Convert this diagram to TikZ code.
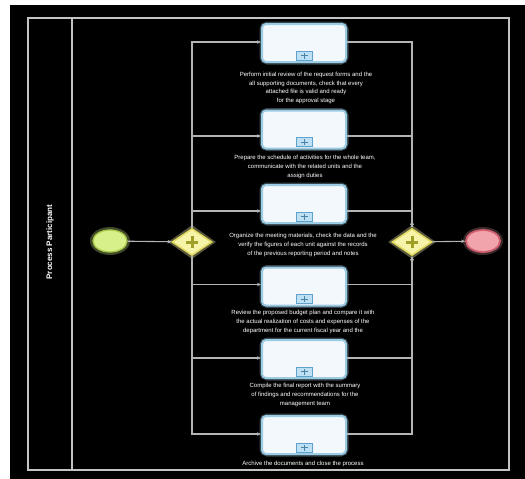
\documentclass[tikz,border=0pt]{standalone}
\usepackage{fontspec}
\setmainfont{Liberation Sans}
\usetikzlibrary{arrows.meta,shapes.geometric,calc}
\definecolor{flowgray}{HTML}{B4B4B4}
\definecolor{poolgray}{HTML}{C4C4C4}
\definecolor{taskfill}{HTML}{F2F8FC}
\definecolor{taskedge}{HTML}{9CCBE4}
\definecolor{markfill}{HTML}{BEE0F4}
\definecolor{markedge}{HTML}{5EA2CC}
\definecolor{startfill}{HTML}{D8F08A}
\definecolor{startedge}{HTML}{A8C848}
\definecolor{endfill}{HTML}{F2A4AC}
\definecolor{endedge}{HTML}{D06070}
\definecolor{gwfill}{HTML}{F6F4A8}
\definecolor{gwedge}{HTML}{E0D860}
\definecolor{gwplus}{HTML}{A0A028}
\tikzset{
  lbl/.style={text=white, font=\fontsize{6}{8.6}\selectfont, align=center, inner sep=0pt},
  taskbox/.style={draw=taskedge, line width=2pt, fill=taskfill, rounded corners=4pt,
    minimum width=84pt, minimum height=38pt, inner sep=0pt},
  taskglow/.style={draw=taskedge, line width=5pt, opacity=0.35, rounded corners=5pt,
    minimum width=84pt, minimum height=38pt, inner sep=0pt},
  flow/.style={draw=flowgray, line width=1.1pt, -{Stealth[length=4pt,width=3.5pt]}},
  gw/.style={diamond, draw=gwedge, line width=1.5pt, fill=gwfill, minimum width=40pt,
    minimum height=27pt, inner sep=0pt},
  gwglow/.style={diamond, fill=gwfill, opacity=0.35, minimum width=48pt,
    minimum height=34pt, inner sep=0pt},
  ev/.style={ellipse, line width=1.3pt, minimum width=34pt, minimum height=22pt, inner sep=0pt},
  plusline/.style={gwplus, line width=3pt},
}
\newcommand{\submark}[1]{%
  \draw[markedge, fill=markfill, line width=0.8pt]
    ($(#1.south)+(-8,-3)$) rectangle ($(#1.south)+(8,-12)$);
  \draw[markedge!80!black, line width=0.9pt]
    ($(#1.south)+(-3.5,-7.5)$) -- ($(#1.south)+(3.5,-7.5)$)
    ($(#1.south)+(0,-4.5)$) -- ($(#1.south)+(0,-10.5)$);
}
\begin{document}
\begin{tikzpicture}[x=1pt,y=-1pt]
\useasboundingbox (0,0) rectangle (525,479);
\fill[white] (0,0) rectangle (525,479);
\fill[black] (10,5) rectangle (525,479);
% pool
\draw[poolgray, line width=1.6pt] (28,18) rectangle (509,470);
\draw[poolgray, line width=1.6pt] (72,18) -- (72,470);
\node[lbl, rotate=90, font=\fontsize{8}{9}\selectfont\bfseries] (pool) at (50,242) {Process Participant};

% glows
\node[taskglow] at (304,43) {};
\node[taskglow] at (304,129.5) {};
\node[taskglow] at (304,204) {};
\node[taskglow] at (304,286.5) {};
\node[taskglow] at (304,359) {};
\node[taskglow] at (304,435) {};
\node[gwglow] at (192,242) {};
\node[gwglow] at (412,242) {};
\node[ellipse, fill=startfill, opacity=0.3, minimum width=40pt, minimum height=28pt] at (110,241) {};
\node[ellipse, fill=endfill, opacity=0.25, minimum width=40pt, minimum height=28pt] at (483,241) {};

% events and gateways
\node[ev, draw=startedge, fill=startfill] (start) at (110,241) {};
\node[ev, draw=endedge, fill=endfill, line width=1.8pt] (end) at (483,241) {};
\node[gw] (gL) at (192,242) {};
\node[gw] (gR) at (412,242) {};
\draw[plusline] ($(gL)+(-6,0)$) -- ($(gL)+(6,0)$) ($(gL)+(0,-6)$) -- ($(gL)+(0,6)$);
\draw[plusline] ($(gR)+(-6,0)$) -- ($(gR)+(6,0)$) ($(gR)+(0,-6)$) -- ($(gR)+(0,6)$);

% tasks
\node[taskbox] (t1) at (304,43) {};
\node[taskbox] (t2) at (304,129.5) {};
\node[taskbox] (t3) at (304,204) {};
\node[taskbox] (t4) at (304,286.5) {};
\node[taskbox] (t5) at (304,359) {};
\node[taskbox] (t6) at (304,435) {};
\submark{t1}\submark{t2}\submark{t3}\submark{t4}\submark{t5}\submark{t6}

% labels
\node[lbl] (l1) at (306,88) {Perform initial review of the request forms and the\\all supporting documents, check that every\\attached file is valid and ready\\for the approval stage};
\node[lbl] (l2) at (305,167) {Prepare the schedule of activities for the whole team,\\communicate with the related units and the\\assign duties};
\node[lbl] (l3) at (303,245) {Organize the meeting materials, check the data and the\\verify the figures of each unit against the records\\of the previous reporting period and notes};
\node[lbl] (l4) at (303,322) {Review the proposed budget plan and compare it with\\the actual realization of costs and expenses of the\\department for the current fiscal year and the};
\node[lbl] (l5) at (305,395) {Compile the final report with the summary\\of findings and recommendations for the\\management team};
\node[lbl] (l6) at (303,464) {Archive the documents and close the process};

% flows
\draw[flow] (start) -- (gL);
\draw[flow] (gL.north) |- ([yshift=1pt]t1.west);
\draw[flow] (gL.north) |- ([yshift=-6.5pt]t2.west);
\draw[flow] (gL.north) |- ([yshift=-7pt]t3.west);
\draw[flow] (gL.south) |- ([yshift=2pt]t4.west);
\draw[flow] (gL.south) |- ([yshift=1pt]t5.west);
\draw[flow] (gL.south) |- ([yshift=1pt]t6.west);
\draw[flow] ([yshift=1pt]t1.east) -| (gR.north);
\draw[flow] ([yshift=-6.5pt]t2.east) -| (gR.north);
\draw[flow] ([yshift=-7pt]t3.east) -| (gR.north);
\draw[flow] ([yshift=2pt]t4.east) -| (gR.south);
\draw[flow] ([yshift=1pt]t5.east) -| (gR.south);
\draw[flow] ([yshift=1pt]t6.east) -| (gR.south);
\draw[flow] (gR) -- (end);
\end{tikzpicture}
\end{document}
